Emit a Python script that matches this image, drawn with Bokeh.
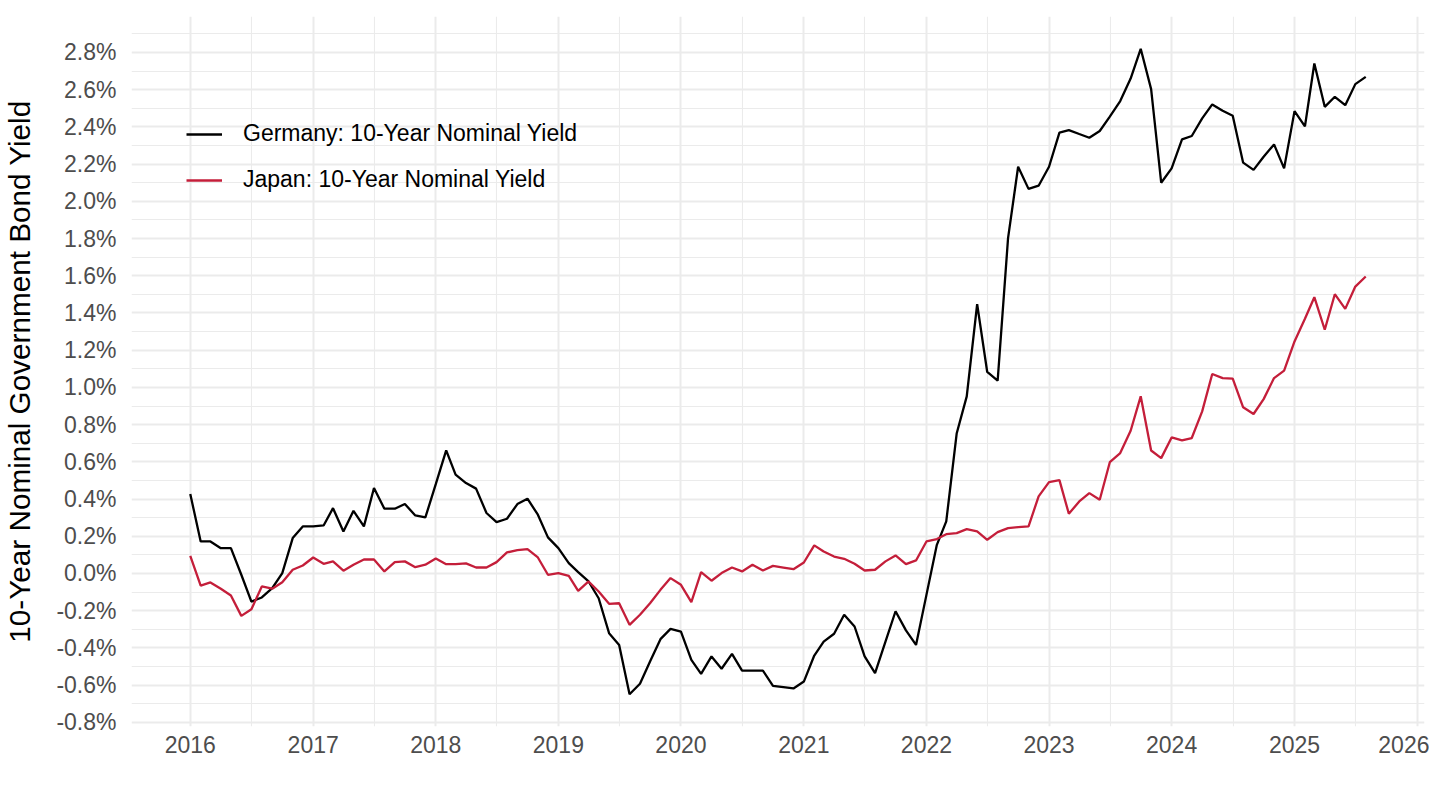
import pandas as pd
from bokeh.plotting import figure
from bokeh.models import (ColumnDataSource, FixedTicker, PrintfTickFormatter,
                          DatetimeTickFormatter, Range1d, Legend, LegendItem)
from bokeh.embed import file_html
from bokeh.resources import INLINE

# ---------------- data (monthly, Jan 2016 - Aug 2025) ----------------
start_month = "2016-01-01"

germany = [
    0.427, 0.172, 0.172, 0.136, 0.136, -0.007, -0.151, -0.129, -0.079, 0.002, 0.190, 0.253,
    0.253, 0.258, 0.351, 0.226, 0.337, 0.253, 0.459, 0.348, 0.348, 0.373, 0.312, 0.301,
    0.480, 0.662, 0.531, 0.486, 0.456, 0.325, 0.276, 0.294, 0.373, 0.402, 0.316, 0.194,
    0.136, 0.056, 0.007, -0.043, -0.133, -0.321, -0.384, -0.649, -0.593, -0.473, -0.353, -0.298,
    -0.312, -0.464, -0.540, -0.446, -0.512, -0.432, -0.522, -0.522, -0.522, -0.604, -0.611, -0.618,
    -0.581, -0.441, -0.366, -0.324, -0.222, -0.285, -0.446, -0.536, -0.366, -0.203, -0.306, -0.384,
    -0.115, 0.154, 0.280, 0.752, 0.952, 1.448, 1.083, 1.036, 1.802, 2.186, 2.067, 2.084,
    2.186, 2.369, 2.383, 2.362, 2.342, 2.378, 2.455, 2.539, 2.660, 2.820, 2.603, 2.100,
    2.177, 2.333, 2.351, 2.446, 2.521, 2.487, 2.460, 2.208, 2.169, 2.240, 2.306, 2.177,
    2.485, 2.403, 2.741, 2.508, 2.562, 2.517, 2.630, 2.669,
]

japan = [
    0.095, -0.065, -0.048, -0.082, -0.118, -0.228, -0.192, -0.070, -0.082, -0.047, 0.020, 0.043,
    0.086, 0.052, 0.065, 0.015, 0.047, 0.075, 0.075, 0.011, 0.061, 0.065, 0.034, 0.047,
    0.081, 0.050, 0.050, 0.054, 0.032, 0.032, 0.061, 0.113, 0.125, 0.131, 0.086, -0.007,
    0.002, -0.013, -0.093, -0.043, -0.097, -0.163, -0.160, -0.276, -0.222, -0.160, -0.088, -0.025,
    -0.061, -0.154, 0.007, -0.039, 0.002, 0.032, 0.011, 0.047, 0.016, 0.041, 0.032, 0.023,
    0.059, 0.151, 0.118, 0.091, 0.079, 0.052, 0.016, 0.020, 0.065, 0.097, 0.050, 0.070,
    0.172, 0.185, 0.211, 0.217, 0.238, 0.226, 0.181, 0.222, 0.244, 0.249, 0.253, 0.414,
    0.491, 0.502, 0.321, 0.387, 0.432, 0.396, 0.598, 0.647, 0.767, 0.952, 0.661, 0.620,
    0.731, 0.715, 0.728, 0.871, 1.072, 1.050, 1.047, 0.893, 0.857, 0.937, 1.050, 1.090,
    1.247, 1.369, 1.485, 1.310, 1.501, 1.422, 1.542, 1.596,
]

series_names = ["Germany: 10-Year Nominal Yield", "Japan: 10-Year Nominal Yield"]
series_colors = ["#000000", "#C41E3A"]

year_ticks = [2016, 2017, 2018, 2019, 2020, 2021, 2022, 2023, 2024, 2025, 2026]
y_ticks = [-0.8, -0.6, -0.4, -0.2, 0.0, 0.2, 0.4, 0.6, 0.8, 1.0, 1.2, 1.4,
           1.6, 1.8, 2.0, 2.2, 2.4, 2.6, 2.8]
y_minor = [-0.7, -0.5, -0.3, -0.1, 0.1, 0.3, 0.5, 0.7, 0.9, 1.1, 1.3, 1.5,
           1.7, 1.9, 2.1, 2.3, 2.5, 2.7, 2.9]
y_title = "10-Year Nominal Government Bond Yield"

# ---------------- build ----------------
dates = pd.date_range(start_month, periods=len(germany), freq="MS")
src = ColumnDataSource(dict(date=dates, de=germany, jp=japan))

def ms(ts):
    return pd.Timestamp(ts).value / 1e6

x0, x1 = ms(dates[0]), ms(dates[-1])
xpad = 0.05 * (x1 - x0)
allv = germany + japan
ymin, ymax = min(allv), max(allv)
ypad = 0.05 * (ymax - ymin)

FONT = "Liberation Sans"

p = figure(frame_width=1293, frame_height=710, x_axis_type="datetime",
           x_range=Range1d(x0 - xpad, x1 + xpad),
           y_range=Range1d(ymin - ypad, ymax + ypad),
           output_backend="svg", toolbar_location=None,
           min_border_left=124, min_border_right=5, min_border_top=16,
           min_border_bottom=42)
p.outline_line_color = None
p.background_fill_color = "white"
p.border_fill_color = "white"

major_x = [ms(f"{y}-01-01") for y in year_ticks]
minor_x = [ms(f"{y}-07-02") for y in year_ticks[:-1]] + [ms("2015-07-02")]
p.xaxis.ticker = FixedTicker(ticks=major_x, minor_ticks=minor_x)
p.xaxis.formatter = DatetimeTickFormatter(
    years="%Y", months="%Y", days="%Y", hours="%Y", minutes="%Y",
    seconds="%Y", milliseconds="%Y", microseconds="%Y", hourmin="%Y", minsec="%Y")
p.yaxis.ticker = FixedTicker(ticks=y_ticks, minor_ticks=y_minor)
p.yaxis.formatter = PrintfTickFormatter(format="%.1f%%")

for ax in (p.xaxis[0], p.yaxis[0]):
    ax.axis_line_color = None
    ax.major_tick_line_color = None
    ax.minor_tick_line_color = None
    ax.major_tick_out = 0
    ax.minor_tick_out = 0
    ax.major_label_text_font = FONT
    ax.major_label_text_font_size = "23px"
    ax.major_label_text_color = "#4D4D4D"

p.xaxis.major_label_standoff = 9
p.yaxis.major_label_standoff = 15
p.yaxis.axis_label = y_title
p.yaxis.axis_label_text_font = FONT
p.yaxis.axis_label_text_font_size = "29.7px"
p.yaxis.axis_label_text_font_style = "normal"
p.yaxis.axis_label_text_color = "#000000"
p.yaxis.axis_label_standoff = 17

for g in (p.xgrid[0], p.ygrid[0]):
    g.grid_line_color = "#EBEBEB"
    g.grid_line_width = 2
    g.minor_grid_line_color = "#EBEBEB"
    g.minor_grid_line_width = 1.1

r_de = p.line("date", "de", source=src, line_color=series_colors[0], line_width=2.3)
r_jp = p.line("date", "jp", source=src, line_color=series_colors[1], line_width=2.3)

legend = Legend(items=[LegendItem(label=series_names[0], renderers=[r_de]),
                       LegendItem(label=series_names[1], renderers=[r_jp])],
                location=(55, 533), padding=0, margin=0, spacing=19,
                glyph_width=36, glyph_height=26, label_height=26,
                label_standoff=21, label_text_font=FONT,
                label_text_font_size="23px", label_text_color="#000000",
                background_fill_alpha=0, border_line_alpha=0)
p.add_layout(legend, "center")

open("out.html", "w").write(file_html(p, INLINE))
